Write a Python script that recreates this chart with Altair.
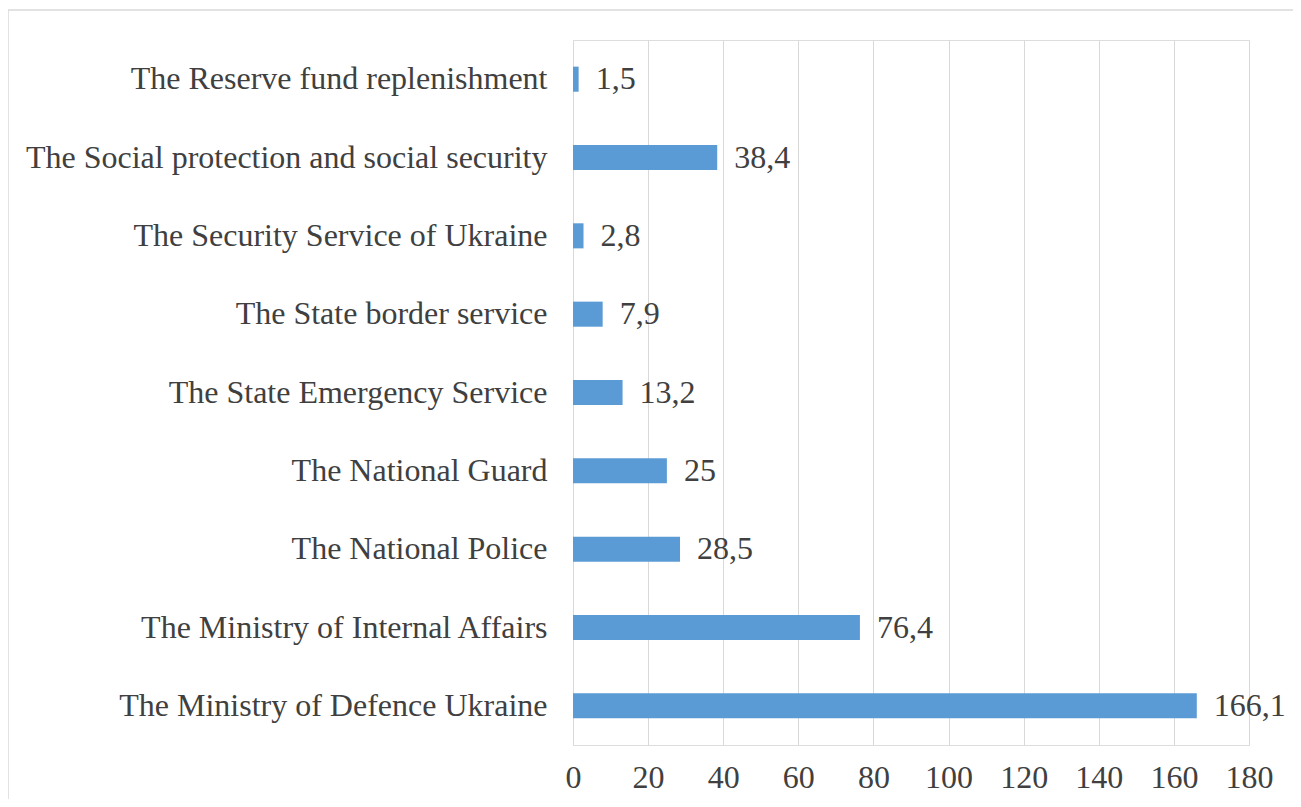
import altair as alt
import pandas as pd

categories = [
    "The Reserve fund replenishment",
    "The Social protection and social security",
    "The Security Service of Ukraine",
    "The State border service",
    "The State Emergency Service",
    "The National Guard",
    "The National Police",
    "The Ministry of Internal Affairs",
    "The Ministry of Defence Ukraine",
]
values = [1.5, 38.4, 2.8, 7.9, 13.2, 25, 28.5, 76.4, 166.1]
x_ticks = [0, 20, 40, 60, 80, 100, 120, 140, 160, 180]

df = pd.DataFrame({
    "category": categories,
    "value": values,
    "label": [f"{v:g}".replace(".", ",") for v in values],
})

FONT = "'Liberation Serif', 'Times New Roman', Times, serif"
TEXT = "#404040"
BAR = "#5B9BD5"

y_enc = alt.Y(
    "category:N",
    sort=categories,
    title=None,
    scale=alt.Scale(paddingInner=0.68, paddingOuter=0.34),
    axis=alt.Axis(
        ticks=False, domain=False, grid=False, labelPadding=26,
        labelFont=FONT, labelFontSize=32, labelColor=TEXT, labelLimit=700,
    ),
)
x_enc = alt.X(
    "value:Q",
    title=None,
    scale=alt.Scale(domain=[0, 180], nice=False),
    axis=alt.Axis(
        values=x_ticks, ticks=False, domain=False, grid=True,
        gridColor="#d9d9d9", gridWidth=1, labelPadding=17, labelFlush=False,
        labelFont=FONT, labelFontSize=32, labelColor=TEXT,
    ),
)

bars = alt.Chart(df).mark_bar(color=BAR).encode(x=x_enc, y=y_enc)
labels = alt.Chart(df).mark_text(
    align="left", baseline="middle", dx=17, font=FONT, fontSize=32, color=TEXT
).encode(x="value:Q", y=alt.Y("category:N", sort=categories), text="label:N")

border = alt.Chart(alt.Data(values=[{}])).mark_rect(
    fillOpacity=0, stroke="#d9d9d9", strokeWidth=1.5
).encode(
    x=alt.value(-565), x2=alt.value(760), y=alt.value(-30), y2=alt.value(780)
)

chart = alt.layer(border, bars, labels).properties(
    width=676,
    height=705,
    autosize=alt.AutoSizeParams(type="none"),
    padding={"left": 565, "top": 32, "right": 44, "bottom": 54},
).configure_view(stroke=None).configure(background="white", font=FONT)

chart.save("out.html", embed_options={"renderer": "svg", "actions": False})
